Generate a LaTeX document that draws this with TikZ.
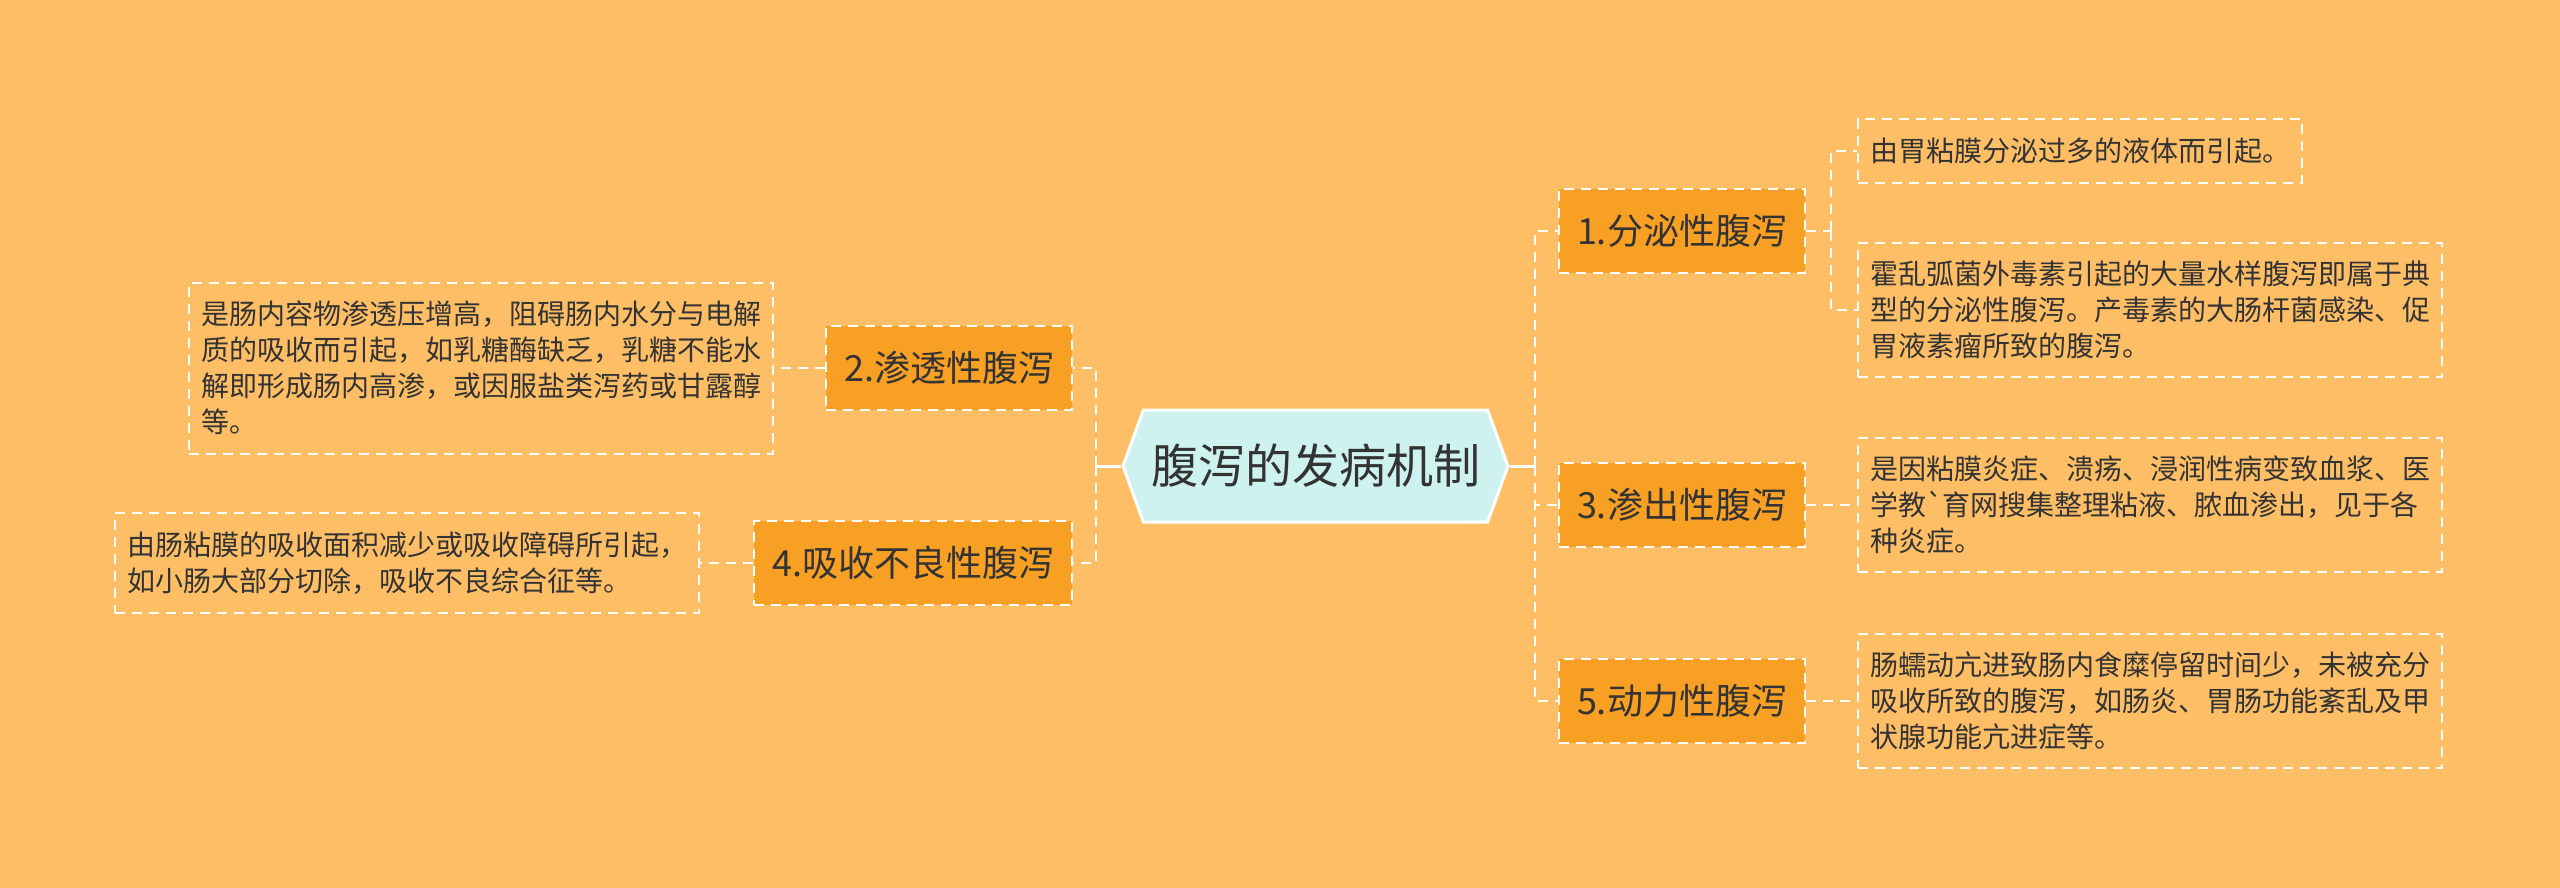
\documentclass[tikz,border=0pt]{standalone}
\usepackage{fontspec}
\newfontfamily\cjk{Noto Sans CJK SC}
\usetikzlibrary{positioning,shapes.symbols}
\definecolor{canvas}{RGB}{254,190,102}
\definecolor{topicfill}{RGB}{248,160,36}
\definecolor{hubfill}{RGB}{206,242,240}
\definecolor{ink}{RGB}{51,51,51}

\begin{document}
\begin{tikzpicture}[
    x=0.5pt, y=-0.5pt,
    every node/.style={font=\cjk, text=ink},
    hub/.style={signal, signal to=west and east, signal pointer angle=140,
                fill=hubfill, draw=white, line width=1.5pt,
                minimum width=192.5pt, minimum height=56pt,
                font=\cjk\fontsize{23.5}{28}\selectfont},
    topic/.style={fill=topicfill, draw=white, dash pattern=on 5pt off 3.5pt,
                  line width=1pt, minimum height=42pt, inner xsep=9pt,
                  font=\cjk\fontsize{18}{22}\selectfont},
    leaf/.style={draw=white, dash pattern=on 5pt off 3.5pt, line width=1pt,
                 align=left, inner xsep=6pt, inner ysep=6.5pt,
                 font=\cjk\fontsize{14}{18}\selectfont},
    link/.style={draw=white, line width=1pt, dash pattern=on 5pt off 3.5pt},
  ]
  \path[use as bounding box, fill=canvas] (0,0) rectangle (2560,888);

  % centre and main topics
  \node[hub] (hub) at (1315.5,466) {腹泻的发病机制};
  \node[topic, anchor=west] (b1) at (1558,231) {1.分泌性腹泻};
  \node[topic, anchor=west] (b3) at (1558,505) {3.渗出性腹泻};
  \node[topic, anchor=west] (b5) at (1558,701) {5.动力性腹泻};
  \node[topic, anchor=east] (b2) at (1073,368) {2.渗透性腹泻};
  \node[topic, anchor=east] (b4) at (1073,563) {4.吸收不良性腹泻};

  % details
  \node[leaf, minimum height=32pt, right=25.5pt of b1, yshift=40pt] (l1a)
    {由胃粘膜分泌过多的液体而引起。};
  \node[leaf, minimum height=67pt, right=25.5pt of b1, yshift=-39.5pt] (l1b)
    {霍乱弧菌外毒素引起的大量水样腹泻即属于典\\
     型的分泌性腹泻。产毒素的大肠杆菌感染、促\\
     胃液素瘤所致的腹泻。};
  \node[leaf, minimum height=67pt, right=25.5pt of b3] (l3)
    {是因粘膜炎症、溃疡、浸润性病变致血浆、医\\
     学教\textasciigrave 育网搜集整理粘液、脓血渗出，见于各\\
     种炎症。};
  \node[leaf, minimum height=67pt, right=25.5pt of b5] (l5)
    {肠蠕动亢进致肠内食糜停留时间少，未被充分\\
     吸收所致的腹泻，如肠炎、胃肠功能紊乱及甲\\
     状腺功能亢进症等。};
  \node[leaf, minimum height=85.5pt, left=25.5pt of b2] (l2)
    {是肠内容物渗透压增高，阻碍肠内水分与电解\\
     质的吸收而引起，如乳糖酶缺乏，乳糖不能水\\
     解即形成肠内高渗，或因服盐类泻药或甘露醇\\
     等。};
  \node[leaf, minimum height=50pt, left=26.5pt of b4] (l4)
    {由肠粘膜的吸收面积减少或吸收障碍所引起，\\
     如小肠大部分切除，吸收不良综合征等。};

  % connectors
  \draw[white, line width=1.5pt] (hub.east) -- ++(25,0) coordinate (rfork);
  \draw[white, line width=1.5pt] (hub.west) -- ++(-25,0) coordinate (lfork);
  \draw[link] (rfork) |- (b1.west);
  \draw[link] (rfork) |- (b3.west);
  \draw[link] (rfork) |- (b5.west);
  \draw[link] (lfork) |- (b2.east);
  \draw[link] (lfork) |- (b4.east);
  \draw[link] (b1.east) -- ++(25,0) coordinate (f1);
  \draw[link] (f1) |- (l1a.west);
  \draw[link] (f1) |- (l1b.west);
  \draw[link] (b3.east) -- (l3.west);
  \draw[link] (b5.east) -- (l5.west);
  \draw[link] (b2.west) -- (l2.east);
  \draw[link] (b4.west) -- (l4.east);
\end{tikzpicture}
\end{document}
